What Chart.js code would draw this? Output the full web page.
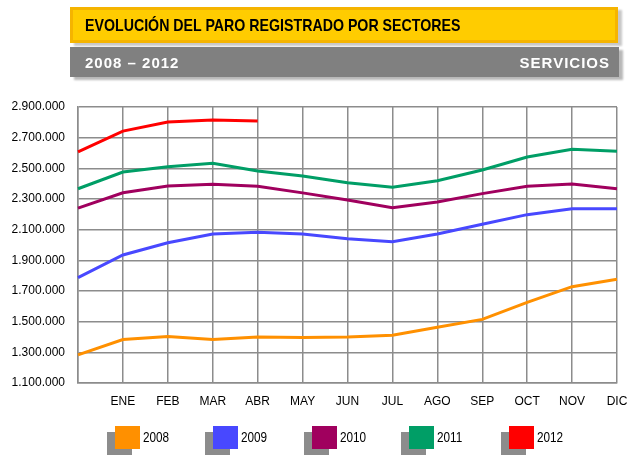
<!DOCTYPE html>
<html>
<head>
<meta charset="utf-8">
<script src="https://cdn.jsdelivr.net/npm/chart.js@4"></script>
<style>
  html, body { margin: 0; padding: 0; background: #fff; }
  #page { position: relative; width: 640px; height: 455px; overflow: hidden; }
  #chart-wrap { position: absolute; left: 0; top: 0; width: 640px; height: 455px; }
  .title-box {
    position: absolute; left: 70px; top: 7px; width: 548px; height: 36px;
    box-sizing: border-box; background: #ffcc00; border: 3px solid #f5b400;
    box-shadow: 4px 3px 2px rgba(0, 0, 0, 0.22);
  }
  .title-box span {
    position: absolute; left: 12px; top: 1px; white-space: nowrap;
    font: bold 17px 'Liberation Sans', Arial, sans-serif; line-height: 30px; color: #000;
    transform: scaleX(0.835); transform-origin: 0 50%;
  }
  .sub-box {
    position: absolute; left: 70px; top: 47px; width: 549px; height: 30px;
    box-sizing: border-box; background: #808080;
    box-shadow: 4px 3px 2px rgba(0, 0, 0, 0.28);
    font: bold 15px 'Liberation Sans', Arial, sans-serif; letter-spacing: 1px;
    line-height: 31px; color: #fff; padding: 0 8px 0 15px;
  }
  .sub-box .right { position: absolute; right: 9px; top: 0; }
  .leg { position: absolute; top: 426px; height: 24px; }
  .leg .shadow { position: absolute; left: -8px; top: 6px; width: 25px; height: 24px; background: #8c8c8c; }
  .leg .sw { position: absolute; left: 0; top: 0; width: 25px; height: 23px; }
  .leg .txt {
    position: absolute; left: 28px; top: 3px; white-space: nowrap;
    font: 14px 'Liberation Sans', Arial, sans-serif; color: #000;
    transform: scaleX(0.84); transform-origin: 0 50%;
  }
</style>
</head>
<body>
<div id="page">
  <div id="chart-wrap"><canvas id="chart-area"></canvas></div>
  <div class="title-box"><span>EVOLUCIÓN DEL PARO REGISTRADO POR SECTORES</span></div>
  <div class="sub-box">2008 – 2012<span class="right">SERVICIOS</span></div>
  <div id="legend"></div>
</div>
<script>
// first point is December of the previous year (no label)
var months = ['', 'ENE', 'FEB', 'MAR', 'ABR', 'MAY', 'JUN', 'JUL', 'AGO', 'SEP', 'OCT', 'NOV', 'DIC'];
var years = ['2008', '2009', '2010', '2011', '2012'];

var paro2008 = [1283000, 1383000, 1404000, 1383000, 1400000, 1397000, 1400000, 1411000, 1463000, 1515000, 1626000, 1728000, 1776000];
var paro2009 = [1787000, 1935000, 2015000, 2072000, 2083000, 2072000, 2041000, 2022000, 2072000, 2135000, 2198000, 2237000, 2237000];
var paro2010 = [2241000, 2341000, 2385000, 2396000, 2383000, 2340000, 2293000, 2243000, 2280000, 2335000, 2383000, 2398000, 2367000];
var paro2011 = [2367000, 2476000, 2511000, 2533000, 2483000, 2450000, 2406000, 2376000, 2419000, 2489000, 2574000, 2624000, 2611000];
var paro2012 = [2608000, 2743000, 2802000, 2815000, 2809000, null, null, null, null, null, null, null, null];

var yTicks = [1100000, 1300000, 1500000, 1700000, 1900000, 2100000, 2300000, 2500000, 2700000, 2900000];

var colors = ['#ff9000', '#4848ff', '#a0005e', '#009e66', '#ff0000'];
var series = [paro2008, paro2009, paro2010, paro2011, paro2012];

var tickFont = "'Liberation Sans', Arial, sans-serif";
var gridColor = '#8c8c8c';

function fmt(v) {
    return String(v).replace(/\B(?=(\d{3})+(?!\d))/g, '.');
}

window.onload = function() {
    var datasets = [];
    for (var i = 0; i < years.length; i++) {
        datasets.push({
            label: years[i],
            data: series[i],
            borderColor: colors[i],
            backgroundColor: colors[i],
            borderWidth: 3,
            pointRadius: 0,
            tension: 0,
            spanGaps: false
        });
    }

    var ctx = document.getElementById('chart-area').getContext('2d');
    window.myLine = new Chart(ctx, {
        type: 'line',
        data: { labels: months, datasets: datasets },
        options: {
            responsive: true,
            maintainAspectRatio: false,
            animation: false,
            layout: { padding: { top: 107, right: 23, bottom: 42, left: 0 } },
            plugins: { legend: { display: false }, tooltip: { enabled: false } },
            scales: {
                x: {
                    offset: false,
                    afterFit: function(scale) { scale.height = 30; },
                    grid: { color: gridColor, lineWidth: 1.5, drawTicks: false },
                    border: { color: gridColor, width: 1.5 },
                    ticks: { color: '#000', padding: 11, maxRotation: 0, autoSkip: false,
                             font: { family: tickFont, size: 12 } }
                },
                y: {
                    min: yTicks[0],
                    max: yTicks[yTicks.length - 1],
                    afterFit: function(scale) { scale.width = 78; },
                    afterBuildTicks: function(scale) {
                        scale.ticks = yTicks.map(function(v) { return { value: v }; });
                    },
                    grid: { color: gridColor, lineWidth: 1.5, drawTicks: false },
                    border: { color: gridColor, width: 1.5 },
                    ticks: { color: '#000', padding: 13,
                             font: { family: tickFont, size: 12 },
                             callback: function(v) { return fmt(v); } }
                }
            }
        }
    });

    // legend with shadowed swatches
    var legX = [115, 213, 312, 409, 509];
    var html = '';
    for (var j = 0; j < years.length; j++) {
        html += '<div class="leg" style="left:' + legX[j] + 'px">' +
            '<div class="shadow"></div>' +
            '<div class="sw" style="background:' + colors[j] + '"></div>' +
            '<div class="txt">' + years[j] + '</div></div>';
    }
    document.getElementById('legend').innerHTML = html;
};
</script>
</body>
</html>
